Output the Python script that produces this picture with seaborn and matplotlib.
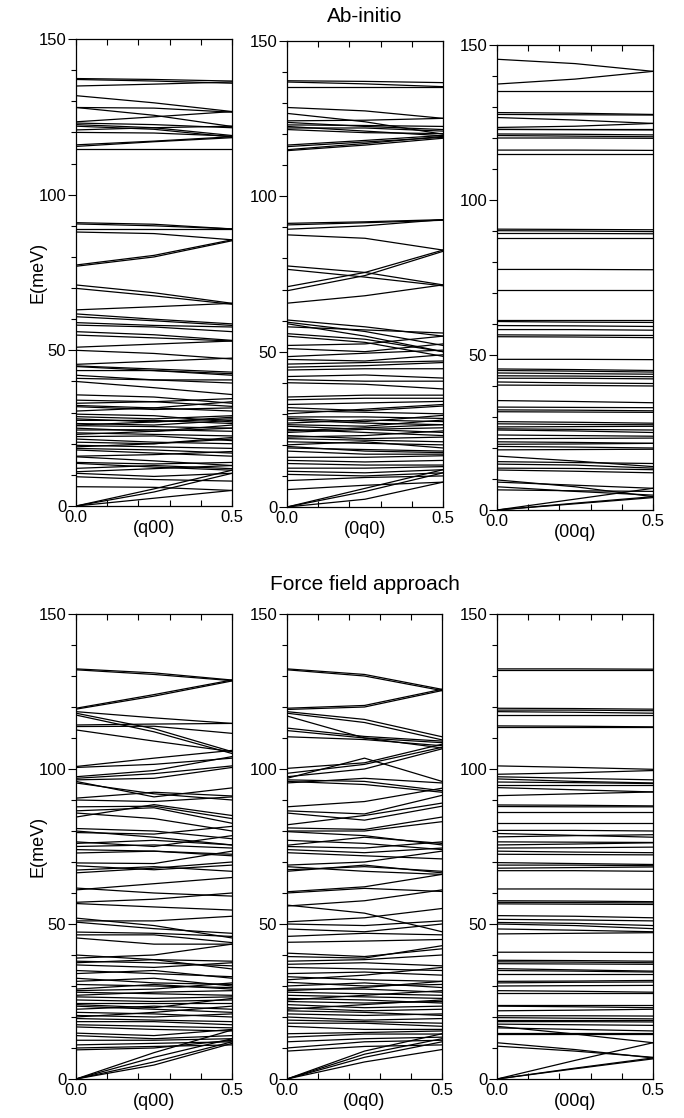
import numpy as np
import pandas as pd
import matplotlib
matplotlib.use("Agg")
import matplotlib.pyplot as plt
import seaborn as sns

# q points at which band energies were read (q=0, 0.25, 0.5)
Q_POINTS = [0.0, 0.25, 0.5]

# ---------------- Ab-initio ----------------
ai_q00 = [
    (137.3, 137.0, 136.5), (137.0, 136.5, 135.8), (134.9, 135.5, 136.2),
    (131.8, 129.5, 126.7), (128.0, 127.8, 126.5), (128.0, 125.5, 121.9),
    (123.4, 125.0, 126.7), (123.0, 122.5, 121.5), (122.5, 121.5, 119.0),
    (122.0, 121.0, 118.5), (120.8, 121.5, 122.0), (120.0, 119.8, 118.8),
    (116.0, 117.2, 118.6), (115.5, 117.0, 118.3), (114.7, 114.7, 114.7),
    (91.0, 90.5, 89.0), (90.6, 90.0, 89.0), (89.0, 89.0, 89.0),
    (88.0, 87.5, 85.5), (77.4, 80.5, 85.5), (77.0, 80.0, 85.2),
    (71.0, 68.5, 65.1), (69.9, 67.5, 64.8), (63.0, 64.0, 65.1),
    (61.7, 60.0, 58.5), (60.8, 59.5, 58.0), (58.9, 58.0, 57.5),
    (58.1, 57.5, 56.0), (56.0, 55.0, 53.2), (54.9, 54.0, 53.0),
    (51.0, 52.0, 53.0), (50.0, 49.0, 47.2), (45.5, 46.5, 47.5),
    (45.0, 44.0, 43.0), (44.8, 43.5, 42.0), (43.5, 43.5, 42.5),
    (42.0, 40.5, 39.5), (41.0, 40.5, 40.5), (40.0, 38.0, 35.8),
    (35.7, 35.0, 33.0), (34.0, 33.5, 34.5), (33.0, 33.5, 32.0),
    (32.3, 31.5, 30.5), (31.9, 31.0, 31.5), (30.5, 31.5, 33.5),
    (28.7, 28.0, 29.0), (29.5, 29.0, 27.0), (28.0, 27.0, 28.0),
    (27.5, 27.5, 26.5), (26.5, 26.0, 27.5), (26.0, 27.0, 28.5),
    (25.8, 25.5, 25.0), (25.0, 24.0, 26.0), (24.4, 24.5, 24.0),
    (23.5, 23.0, 22.5), (23.0, 24.0, 25.0), (22.3, 22.5, 21.0),
    (21.5, 20.5, 20.0), (20.5, 20.0, 22.0), (19.5, 19.0, 18.5),
    (19.0, 20.0, 21.5), (18.5, 18.0, 17.0), (18.0, 17.0, 16.0),
    (16.0, 16.5, 17.5), (15.8, 14.5, 13.0), (14.0, 13.5, 14.0),
    (13.7, 12.5, 11.5), (12.1, 13.0, 12.0), (11.0, 12.0, 13.0),
    (10.5, 9.5, 10.5), (9.4, 8.5, 8.0), (6.2, 6.0, 5.0),
    (0.0, 5.5, 11.5), (0.0, 4.5, 10.5), (0.0, 2.5, 5.0),
]

ai_0q0 = [
    (137.2, 137.0, 136.6), (136.8, 136.2, 135.3), (135.3, 135.3, 135.3),
    (128.6, 127.5, 125.1), (126.7, 124.0, 120.0), (124.3, 124.5, 125.1),
    (123.8, 122.5, 121.5), (123.0, 122.8, 122.5), (122.5, 121.0, 119.5),
    (122.0, 122.0, 121.0), (121.5, 120.5, 120.2), (116.5, 118.0, 119.6),
    (116.0, 117.5, 119.0), (115.0, 117.0, 119.3), (114.7, 116.5, 118.7),
    (91.3, 91.8, 92.5), (90.8, 91.5, 92.3), (89.4, 90.5, 92.5),
    (87.6, 86.5, 82.7), (77.6, 75.5, 71.5), (76.5, 74.0, 71.2),
    (70.9, 75.5, 82.7), (69.6, 74.5, 82.3), (65.6, 68.0, 71.5),
    (60.2, 58.0, 55.0), (59.5, 56.5, 52.0), (59.0, 55.0, 50.0),
    (58.0, 57.0, 56.0), (55.8, 54.0, 50.0), (55.0, 53.0, 48.5),
    (52.0, 52.5, 55.0), (51.0, 50.0, 52.5), (48.4, 49.5, 50.5),
    (47.5, 47.0, 49.0), (46.0, 46.5, 47.0), (45.0, 45.5, 46.5),
    (44.1, 44.5, 44.5), (42.0, 42.5, 41.5), (41.0, 40.5, 40.5),
    (40.0, 39.5, 38.0), (35.4, 36.0, 36.0), (34.5, 35.0, 35.0),
    (33.0, 33.5, 34.0), (32.0, 31.0, 32.5), (31.0, 30.5, 30.0),
    (30.0, 31.5, 33.0), (29.0, 29.0, 28.5), (28.5, 27.5, 29.5),
    (28.0, 27.0, 26.5), (27.0, 28.0, 27.5), (26.5, 26.0, 28.0),
    (26.0, 25.0, 25.5), (25.0, 24.0, 23.0), (24.5, 25.5, 26.5),
    (24.0, 25.0, 24.0), (23.0, 22.0, 22.5), (22.5, 23.0, 24.5),
    (22.0, 21.5, 21.0), (21.0, 20.5, 20.0), (20.0, 21.0, 19.0),
    (19.5, 18.0, 17.5), (19.0, 18.5, 18.0), (18.0, 17.0, 17.0),
    (16.0, 16.0, 16.5), (15.0, 14.5, 15.0), (14.0, 13.5, 13.5),
    (12.5, 12.5, 13.0), (11.5, 11.0, 12.0), (10.5, 10.0, 11.0),
    (8.5, 9.5, 10.0), (5.6, 7.0, 8.0), (0.0, 6.0, 12.0),
    (0.0, 5.0, 11.0), (0.0, 2.5, 8.0),
]

ai_00q = [
    (145.4, 144.0, 141.5), (137.4, 139.0, 141.5), (135.2, 135.2, 135.2),
    (128.2, 128.0, 127.6), (127.6, 127.5, 127.4), (126.6, 125.8, 124.7),
    (123.4, 123.8, 124.7), (123.0, 123.0, 123.0), (122.8, 122.7, 122.6),
    (121.3, 121.2, 121.0), (120.8, 120.6, 120.4), (120.0, 120.0, 119.9),
    (116.1, 116.1, 116.0), (114.8, 114.8, 114.8), (90.6, 90.5, 90.4),
    (90.1, 90.0, 89.8), (89.2, 89.2, 89.1), (87.6, 87.6, 87.6),
    (77.6, 77.6, 77.5), (71.0, 71.0, 71.0), (61.3, 61.3, 61.3),
    (60.8, 60.6, 60.5), (59.5, 59.4, 59.2), (58.2, 58.2, 58.0),
    (56.5, 56.4, 56.3), (55.9, 55.8, 55.6), (48.6, 48.6, 48.5),
    (45.5, 45.3, 45.0), (45.0, 44.8, 44.5), (44.2, 44.0, 43.8),
    (43.3, 43.2, 43.0), (42.5, 42.5, 42.3), (41.3, 41.0, 40.8),
    (40.3, 40.2, 40.0), (35.3, 35.0, 34.6), (33.2, 33.1, 33.0),
    (32.3, 32.2, 32.0), (31.7, 31.6, 31.5), (28.5, 28.3, 28.0),
    (27.8, 27.6, 27.5), (26.8, 26.9, 27.0), (26.2, 26.0, 25.8),
    (25.8, 25.5, 25.0), (24.2, 24.0, 23.8), (23.0, 23.1, 23.2),
    (22.0, 21.8, 21.5), (21.2, 21.3, 21.5), (20.5, 20.3, 20.0),
    (19.4, 19.5, 19.6), (17.4, 15.8, 14.0), (15.6, 15.3, 15.0),
    (14.8, 14.5, 13.5), (13.5, 13.4, 13.0), (12.9, 12.5, 12.0),
    (9.7, 7.5, 4.3), (9.0, 8.0, 7.0), (7.5, 6.0, 4.8),
    (6.5, 6.2, 6.0), (0.0, 3.5, 7.0), (0.0, 2.2, 4.3), (0.0, 2.0, 4.0),
]

# ---------------- Force field approach ----------------
ff_q00 = [
    (132.3, 131.0, 128.7), (132.0, 130.5, 128.5), (119.6, 124.0, 128.7),
    (119.3, 123.5, 128.4), (118.5, 116.5, 114.7), (118.0, 113.0, 105.6),
    (117.4, 112.0, 105.0), (114.2, 114.5, 114.7), (113.7, 113.8, 111.5),
    (112.6, 109.0, 105.6), (100.8, 103.5, 106.0), (100.5, 101.5, 103.5),
    (97.5, 99.5, 104.0), (97.0, 98.5, 101.0), (96.5, 97.0, 100.5),
    (96.0, 91.0, 93.9), (95.5, 92.0, 90.0), (90.6, 92.5, 91.3),
    (90.0, 89.5, 91.0), (87.8, 88.0, 84.0), (86.5, 87.5, 82.5),
    (85.8, 84.0, 80.0), (84.5, 88.5, 85.0), (80.8, 80.0, 77.5),
    (80.0, 78.0, 75.5), (79.5, 79.0, 81.5), (76.5, 75.0, 78.5),
    (76.0, 77.0, 75.5), (75.0, 75.5, 74.5), (74.0, 73.5, 72.0),
    (72.9, 73.5, 72.5), (69.7, 69.5, 73.5), (68.8, 67.5, 69.0),
    (67.4, 68.5, 67.0), (66.5, 68.0, 70.0), (61.6, 60.0, 59.0),
    (61.0, 63.0, 65.0), (57.0, 58.0, 60.0), (56.6, 55.5, 54.5),
    (51.9, 49.5, 45.5), (51.0, 51.0, 52.5), (50.6, 48.5, 47.0),
    (47.4, 47.0, 46.0), (46.5, 46.5, 44.0), (45.5, 43.5, 43.5),
    (40.0, 38.5, 38.0), (39.0, 40.0, 43.5), (38.0, 37.5, 36.5),
    (37.5, 38.5, 35.5), (36.8, 36.0, 37.5), (35.0, 34.0, 33.0),
    (34.0, 35.0, 32.5), (32.5, 31.0, 30.5), (31.5, 32.5, 30.0),
    (30.5, 30.0, 29.5), (29.0, 30.5, 29.0), (28.5, 29.0, 31.0),
    (28.0, 27.5, 27.0), (27.0, 28.0, 28.5), (26.5, 26.0, 26.5),
    (25.5, 25.0, 25.5), (24.5, 24.5, 24.5), (24.0, 23.0, 26.0),
    (23.5, 22.5, 21.5), (22.5, 23.5, 22.5), (21.5, 21.0, 20.0),
    (20.5, 20.0, 21.0), (20.0, 21.5, 23.5), (19.5, 19.0, 18.5),
    (18.5, 18.5, 17.5), (17.5, 17.0, 16.5), (16.8, 16.0, 15.5),
    (14.8, 14.0, 16.0), (14.0, 13.0, 14.0), (12.5, 12.5, 13.0),
    (11.0, 11.5, 12.0), (10.0, 10.5, 11.0), (9.4, 10.0, 12.5),
    (0.0, 8.5, 15.8), (0.0, 7.0, 13.0), (0.0, 5.5, 12.0),
    (0.0, 4.5, 11.5),
]

ff_0q0 = [
    (132.3, 130.5, 125.7), (132.0, 130.0, 125.3), (119.6, 120.5, 125.7),
    (119.2, 120.0, 125.3), (118.5, 116.0, 110.4), (118.0, 115.0, 109.4),
    (117.1, 110.0, 106.8), (113.2, 110.5, 109.0), (112.4, 110.0, 108.5),
    (110.4, 109.5, 107.5), (100.2, 102.0, 108.0), (98.6, 101.5, 107.0),
    (97.5, 100.0, 106.5), (97.0, 103.5, 96.0), (96.5, 96.0, 93.0),
    (96.0, 95.0, 92.5), (95.5, 97.0, 95.5), (87.8, 89.5, 93.8),
    (86.5, 85.5, 91.5), (85.8, 83.5, 88.0), (82.0, 85.0, 89.0),
    (81.0, 80.5, 84.5), (80.0, 80.0, 83.0), (79.8, 78.5, 75.5),
    (75.4, 78.0, 76.0), (77.0, 76.0, 74.0), (75.0, 74.5, 76.5),
    (74.0, 73.0, 74.5), (73.0, 72.0, 71.0), (69.0, 70.0, 73.5),
    (68.5, 67.0, 66.0), (67.5, 68.5, 67.0), (67.0, 69.0, 66.5),
    (60.4, 62.0, 66.0), (60.0, 61.5, 60.5), (56.1, 53.5, 47.5),
    (55.8, 57.5, 61.0), (50.7, 52.0, 55.0), (50.0, 49.5, 51.0),
    (48.4, 47.5, 50.0), (46.0, 47.0, 46.5), (44.1, 44.5, 45.0),
    (40.6, 39.5, 42.0), (39.5, 39.0, 43.0), (38.0, 38.5, 40.0),
    (37.0, 37.5, 36.5), (36.0, 35.5, 35.0), (34.0, 34.5, 33.5),
    (33.0, 32.0, 31.5), (32.0, 33.5, 36.0), (31.2, 30.0, 30.5),
    (30.0, 31.0, 29.5), (29.0, 29.0, 28.0), (28.5, 29.5, 31.5),
    (28.0, 27.5, 27.0), (27.0, 26.5, 26.0), (26.0, 25.5, 24.5),
    (25.5, 27.0, 28.5), (25.0, 24.5, 25.0), (24.0, 23.0, 23.5),
    (23.0, 22.0, 22.5), (22.5, 24.0, 25.5), (22.0, 21.5, 20.5),
    (21.0, 20.5, 21.0), (20.0, 19.0, 19.5), (19.0, 18.5, 18.0),
    (18.0, 18.0, 17.0), (17.0, 16.0, 16.0), (14.6, 15.0, 15.5),
    (13.5, 14.5, 14.5), (12.0, 13.0, 13.5), (10.0, 12.0, 12.5),
    (9.0, 10.5, 11.0), (0.0, 9.0, 14.6), (0.0, 8.0, 13.0),
    (0.0, 7.0, 12.0), (0.0, 5.5, 9.5),
]

ff_00q = [
    (132.3, 132.3, 132.2), (132.0, 132.0, 132.0), (119.6, 119.5, 119.3),
    (119.0, 119.0, 118.8), (118.5, 118.3, 118.0), (117.4, 117.4, 117.4),
    (113.9, 113.8, 113.6), (113.6, 113.6, 113.6), (101.0, 100.5, 99.9),
    (98.3, 98.8, 99.5), (97.5, 97.0, 96.5), (96.8, 96.0, 95.5),
    (95.8, 95.6, 95.3), (95.0, 95.0, 95.0), (94.0, 93.3, 92.6),
    (91.4, 92.0, 92.6), (88.4, 88.3, 88.1), (87.9, 87.8, 87.8),
    (86.0, 86.0, 86.0), (82.6, 82.6, 82.6), (80.2, 80.2, 80.0),
    (79.2, 78.6, 78.0), (78.1, 78.5, 78.8), (76.5, 76.4, 76.3),
    (75.5, 75.8, 76.2), (74.5, 74.6, 74.8), (73.5, 73.2, 73.0),
    (72.5, 72.4, 72.3), (69.8, 69.5, 69.2), (69.0, 69.0, 68.8),
    (68.0, 68.2, 68.4), (67.2, 67.2, 67.0), (61.3, 61.3, 61.2),
    (57.5, 57.4, 57.2), (57.0, 56.9, 56.8), (56.5, 56.4, 56.3),
    (52.7, 52.5, 52.0), (51.5, 51.3, 51.0), (50.5, 50.2, 49.5),
    (50.0, 49.5, 48.5), (48.4, 48.0, 47.5), (46.8, 47.0, 47.2),
    (40.9, 40.9, 40.8), (38.3, 38.2, 38.0), (37.8, 37.7, 37.5),
    (37.2, 37.1, 37.0), (35.6, 35.2, 34.8), (35.0, 34.8, 34.5),
    (34.0, 34.0, 34.0), (31.5, 31.6, 31.8), (31.0, 31.2, 31.3),
    (30.0, 30.1, 30.2), (28.5, 28.3, 28.0), (27.8, 27.8, 27.8),
    (24.0, 24.0, 24.0), (23.5, 23.3, 23.0), (22.0, 22.2, 22.5),
    (20.4, 20.4, 20.3), (19.8, 19.6, 19.4), (19.0, 19.0, 19.0),
    (18.5, 18.5, 18.4), (17.7, 17.5, 17.3), (16.5, 16.0, 15.5),
    (15.0, 15.0, 15.0), (14.5, 14.5, 14.5), (17.0, 14.5, 11.7),
    (11.7, 9.5, 6.8), (10.6, 9.0, 7.0), (0.0, 6.0, 11.7),
    (0.0, 3.5, 6.8), (0.0, 3.3, 6.5),
]

ROW_TITLES = ["Ab-initio", "Force field approach"]
DIRECTIONS = ["(q00)", "(0q0)", "(00q)"]
PANELS = [[ai_q00, ai_0q0, ai_00q], [ff_q00, ff_0q0, ff_00q]]


def to_long(bands):
    rows = []
    for b, energies in enumerate(bands):
        for q, e in zip(Q_POINTS, energies):
            rows.append({"band": b, "q": q, "E": e})
    return pd.DataFrame(rows)


sns.set_style("ticks")
plt.rcParams["font.family"] = ["Liberation Sans", "DejaVu Sans"]
plt.rcParams["text.color"] = "black"
plt.rcParams["axes.labelcolor"] = "black"
plt.rcParams["xtick.color"] = "black"
plt.rcParams["ytick.color"] = "black"
plt.rcParams["axes.edgecolor"] = "black"

W, H = 684, 1118
fig = plt.figure(figsize=(W / 100, H / 100), dpi=100)

# axes boxes in pixels: (left, top, right, bottom)
boxes = [
    [(76, 39, 232, 506), (287, 41, 443, 507), (497, 45, 653, 510)],
    [(76, 614, 232, 1079), (287, 614, 442, 1079), (497, 614, 653, 1079)],
]

for r in range(2):
    for c in range(3):
        l, t, rr, b = boxes[r][c]
        ax = fig.add_axes([l / W, 1 - b / H, (rr - l) / W, (b - t) / H])
        df = to_long(PANELS[r][c])
        sns.lineplot(data=df, x="q", y="E", units="band", estimator=None,
                     color="black", linewidth=0.9, sort=False,
                     legend=False, ax=ax)
        ax.set_xlim(0, 0.5)
        ax.set_ylim(0, 150)
        ax.set_xticks([0.0, 0.5])
        ax.set_xticklabels(["0.0", "0.5"])
        ax.set_xticks([0.1, 0.2, 0.3, 0.4], minor=True)
        ax.set_yticks([0, 50, 100, 150])
        ax.set_yticks(np.arange(0, 151, 10), minor=True)
        ax.tick_params(axis="x", which="both", direction="in", top=True,
                       bottom=True, length=4, width=0.8, labelsize=12,
                       pad=3, colors="black")
        ax.tick_params(axis="y", which="major", direction="out", length=6,
                       width=0.8, labelsize=12, pad=1, right=False,
                       colors="black")
        ax.tick_params(axis="y", which="minor", direction="out", length=3.5,
                       width=0.8, right=False, colors="black")
        for s in ax.spines.values():
            s.set_visible(True)
            s.set_linewidth(0.9)
            s.set_color("black")
        ax.set_xlabel(DIRECTIONS[c], fontsize=13, labelpad=-4,
                      color="black")
        if c == 0:
            ax.set_ylabel("E(meV)", fontsize=13, color="black")
            ax.yaxis.set_label_coords(-0.19, 0.5)
        else:
            ax.set_ylabel("")

fig.text(365 / W, 1 - 16 / H, ROW_TITLES[0], ha="center", va="center",
         fontsize=15, color="black")
fig.text(365 / W, 1 - 584 / H, ROW_TITLES[1], ha="center", va="center",
         fontsize=15, color="black")

fig.savefig("out.png", dpi=100)
